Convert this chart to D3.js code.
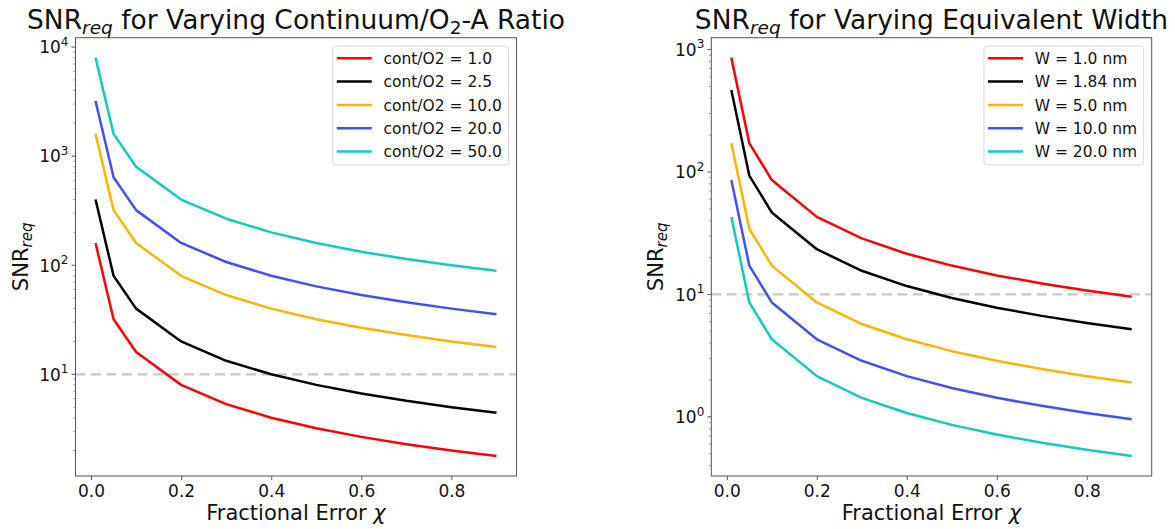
<!DOCTYPE html>
<html>
<head>
<meta charset="utf-8">
<script src="https://cdn.jsdelivr.net/npm/d3@7"></script>
<style>
  body { margin: 0; background: #fff; }
  text { font-family: "DejaVu Sans", sans-serif; fill: #111; }
</style>
</head>
<body>
<div class="chart"></div>
<script>
// fractional error values (x)
const chi = [0.01, 0.05, 0.1, 0.2, 0.3, 0.4, 0.5, 0.6, 0.7, 0.8, 0.9];

// left panel: continuum / O2-A ratio
const ratioLabels = ["cont/O2 = 1.0", "cont/O2 = 2.5", "cont/O2 = 10.0", "cont/O2 = 20.0", "cont/O2 = 50.0"];
const ratio1  = [160, 32, 16, 8, 5.33, 4, 3.2, 2.67, 2.29, 2, 1.78];
const ratio25 = [400, 80, 40, 20, 13.3, 10, 8, 6.67, 5.71, 5, 4.44];
const ratio10 = [1600, 320, 160, 80, 53.3, 40, 32, 26.7, 22.9, 20, 17.8];
const ratio20 = [3200, 640, 320, 160, 107, 80, 64, 53.3, 45.7, 40, 35.6];
const ratio50 = [8000, 1600, 800, 400, 267, 200, 160, 133, 114, 100, 88.9];

// right panel: equivalent width
const widthLabels = ["W = 1.0 nm", "W = 1.84 nm", "W = 5.0 nm", "W = 10.0 nm", "W = 20.0 nm"];
const w1   = [860, 172, 86, 43, 28.7, 21.5, 17.2, 14.3, 12.3, 10.75, 9.56];
const w184 = [467, 93.5, 46.7, 23.4, 15.6, 11.7, 9.35, 7.79, 6.68, 5.84, 5.19];
const w5   = [172, 34.4, 17.2, 8.6, 5.73, 4.3, 3.44, 2.87, 2.46, 2.15, 1.91];
const w10  = [86, 17.2, 8.6, 4.3, 2.87, 2.15, 1.72, 1.43, 1.23, 1.075, 0.956];
const w20  = [43, 8.6, 4.3, 2.15, 1.43, 1.075, 0.86, 0.717, 0.614, 0.538, 0.478];

const xTicks = [0, 0.2, 0.4, 0.6, 0.8];
const threshold = 10;
const colors = ["#ff0000", "#000000", "#ffb400", "#4050f2", "#10cbbf"];

const W = 1175, H = 529;
const svg = d3.select(".chart").append("svg")
    .attr("width", W).attr("height", H);

const panels = [
  { left: 75.5, right: 516.5, title: ["for Varying Continuum/O", "2", "-A Ratio"],
    series: [ratio1, ratio25, ratio10, ratio20, ratio50], labels: ratioLabels },
  { left: 711.3, right: 1151.7, title: ["for Varying Equivalent Width"],
    series: [w1, w184, w5, w10, w20], labels: widthLabels }
];
const plotTop = 37.7, plotBottom = 476;

panels.forEach(p => drawPanel(p));

function drawPanel(p){
    const g = svg.append("g");

    // matplotlib-style 5% margins
    const xs = d3.extent(chi), xpad = (xs[1] - xs[0]) * 0.05;
    const x = d3.scaleLinear().domain([xs[0] - xpad, xs[1] + xpad]).range([p.left, p.right]);

    const all = p.series.flat();
    const lo = Math.log10(d3.min(all)), hi = Math.log10(d3.max(all));
    const ypad = (hi - lo) * 0.05;
    const y = d3.scaleLog().domain([10 ** (lo - ypad), 10 ** (hi + ypad)]).range([plotBottom, plotTop]);

    // threshold line
    g.append("line")
        .attr("x1", p.left).attr("x2", p.right)
        .attr("y1", y(threshold)).attr("y2", y(threshold))
        .attr("stroke", "#c8c8c8").attr("stroke-width", 2.2)
        .attr("stroke-dasharray", "10,5.5");

    const line = d3.line()
        .x((d, i) => x(chi[i]))
        .y(d => y(d));

    g.selectAll("path.series")
        .data(p.series)
        .join("path")
        .attr("class", "series")
        .attr("fill", "none")
        .attr("stroke", (d, i) => colors[i])
        .attr("stroke-width", 2.5)
        .attr("stroke-linejoin", "round")
        .attr("d", line);

    // frame
    g.append("rect")
        .attr("x", p.left).attr("y", plotTop)
        .attr("width", p.right - p.left).attr("height", plotBottom - plotTop)
        .attr("fill", "none").attr("stroke", "#555").attr("stroke-width", 1);

    // x axis
    const xAxis = d3.axisBottom(x).tickValues(xTicks).tickFormat(d3.format(".1f"))
        .tickSize(4).tickPadding(5);
    const gx = g.append("g").attr("transform", `translate(0,${plotBottom})`).call(xAxis);
    gx.select(".domain").remove();
    gx.selectAll(".tick line").attr("stroke", "#555");
    gx.selectAll(".tick text").attr("font-size", 17).attr("fill", "#111")
        .attr("font-family", "DejaVu Sans");

    // y axis: decades with superscript labels, plus minor ticks
    const [d0, d1] = y.domain();
    const majors = d3.range(Math.ceil(Math.log10(d0)), Math.floor(Math.log10(d1)) + 1);
    const minors = [];
    for (let k = Math.floor(Math.log10(d0)); k <= Math.ceil(Math.log10(d1)); k++) {
        for (let m = 2; m <= 9; m++) {
            const v = m * 10 ** k;
            if (v >= d0 && v <= d1) minors.push(v);
        }
    }
    const gy = g.append("g");
    gy.selectAll("line.minor").data(minors).join("line")
        .attr("class", "minor")
        .attr("x1", p.left - 2.2).attr("x2", p.left)
        .attr("y1", d => y(d)).attr("y2", d => y(d))
        .attr("stroke", "#777").attr("stroke-width", 0.7);
    gy.selectAll("line.major").data(majors).join("line")
        .attr("class", "major")
        .attr("x1", p.left - 4).attr("x2", p.left)
        .attr("y1", d => y(10 ** d)).attr("y2", d => y(10 ** d))
        .attr("stroke", "#555").attr("stroke-width", 1);
    const lab = gy.selectAll("text.major").data(majors).join("text")
        .attr("class", "major")
        .attr("x", p.left - 7).attr("y", d => y(10 ** d) + 6.3)
        .attr("text-anchor", "end").attr("font-size", 17);
    lab.append("tspan").text("10");
    lab.append("tspan").attr("font-size", 12).attr("dy", -7.5).text(d => d);

    // axis labels
    const cx = (p.left + p.right) / 2;
    const xl = g.append("text").attr("x", cx).attr("y", 520)
        .attr("text-anchor", "middle").attr("font-size", 21);
    xl.append("tspan").text("Fractional Error ");
    xl.append("tspan").attr("font-style", "italic").text("χ");

    const yl = g.append("text")
        .attr("transform", `translate(${p.left - 48},${(plotTop + plotBottom) / 2}) rotate(-90)`)
        .attr("text-anchor", "middle").attr("font-size", 21);
    yl.append("tspan").text("SNR");
    yl.append("tspan").attr("font-size", 15).attr("font-style", "italic").attr("dy", 4).text("req");

    // title
    const t = g.append("text").attr("x", cx).attr("y", 28.5)
        .attr("text-anchor", "middle").attr("font-size", 26.5);
    t.append("tspan").text("SNR");
    t.append("tspan").attr("font-size", 18.5).attr("font-style", "italic").attr("dy", 5).text("req");
    t.append("tspan").attr("dy", -5).text(" " + p.title[0]);
    if (p.title.length > 1) {
        t.append("tspan").attr("font-size", 18.5).attr("dy", 5).text(p.title[1]);
        t.append("tspan").attr("dy", -5).text(p.title[2]);
    }

    // legend
    const lg = g.append("g");
    const box = lg.append("rect");
    const rows = lg.selectAll("g.row").data(p.labels).join("g")
        .attr("class", "row")
        .attr("transform", (d, i) => `translate(0,${i * 23.3})`);
    rows.append("line")
        .attr("x1", 0).attr("x2", 35).attr("y1", 0).attr("y2", 0)
        .attr("stroke", (d, i) => colors[i]).attr("stroke-width", 2.5);
    rows.append("text").attr("x", 46.7).attr("y", 5.6)
        .attr("font-size", 15.5).text(d => d);
    let tw = 0;
    rows.selectAll("text").each(function(){ tw = Math.max(tw, this.getComputedTextLength()); });
    const bw = 4 + 46.7 + tw + 6.5;
    const bx = p.right - 8 - bw, by = plotTop + 8.3;
    box.attr("x", -4).attr("y", -12.3).attr("width", bw).attr("height", 119)
        .attr("rx", 3).attr("fill", "#fff").attr("fill-opacity", 0.8)
        .attr("stroke", "#d8d8d8").attr("stroke-width", 1);
    lg.attr("transform", `translate(${bx + 4},${by + 12.3})`);
}
</script>
</body>
</html>
